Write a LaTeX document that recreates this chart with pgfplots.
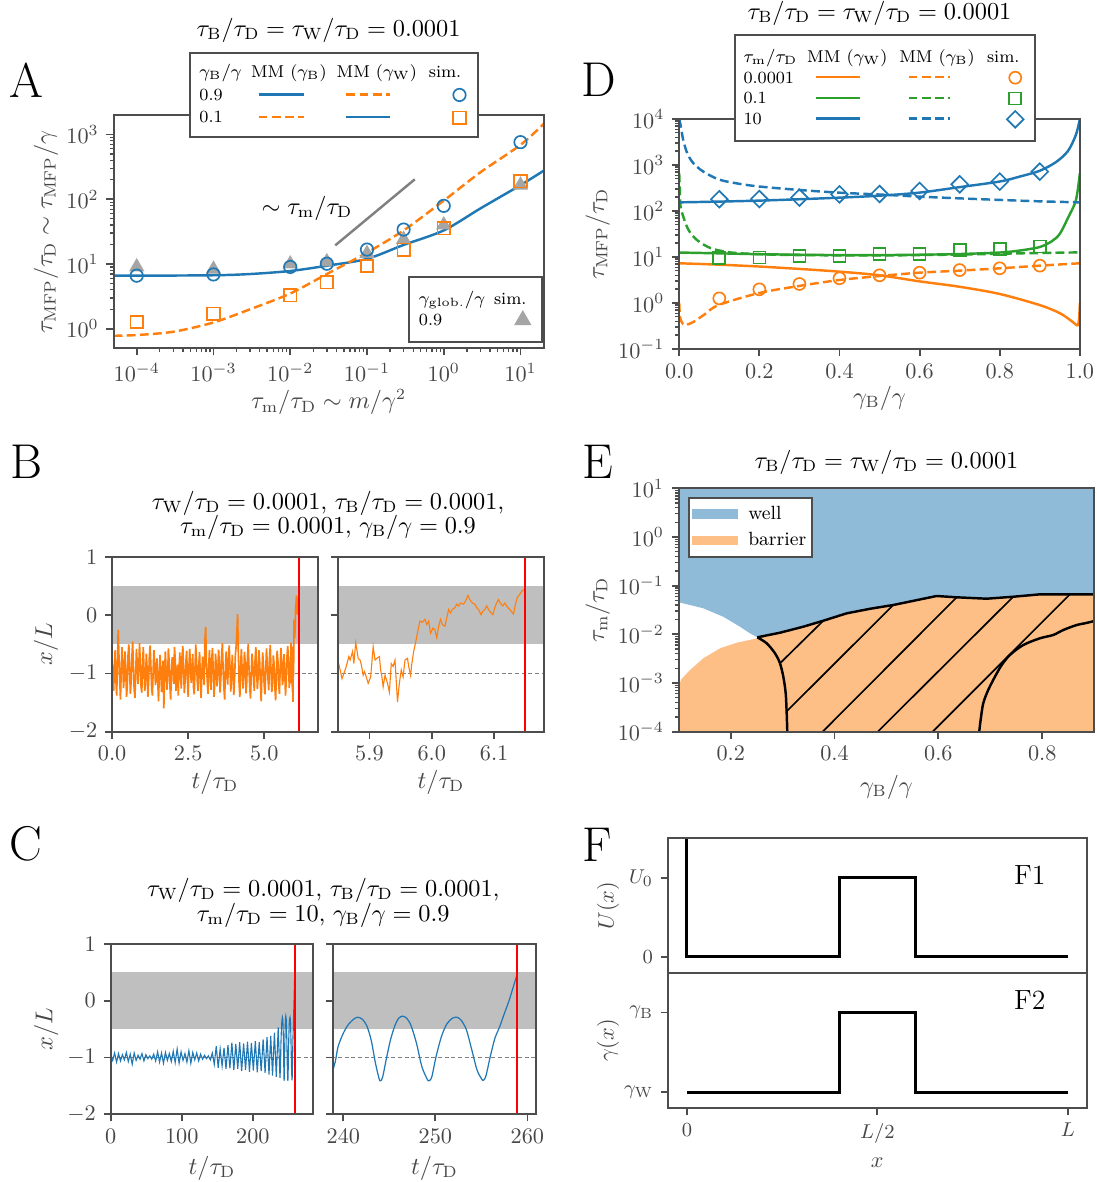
\documentclass[border=0pt]{standalone}
\usepackage{fontspec}
\usepackage{pgfplots}
\usepackage{pgfplotstable}
\pgfplotsset{compat=1.18}
\definecolor{tabblue}{RGB}{31,119,180}
\definecolor{taborange}{RGB}{255,127,14}
\definecolor{tabgreen}{RGB}{44,160,44}
\definecolor{framecol}{RGB}{77,77,77}
\definecolor{labcol}{RGB}{70,70,70}
\definecolor{bandgray}{RGB}{191,191,191}
\definecolor{trigray}{RGB}{165,165,165}
\definecolor{wellblue}{RGB}{143,187,217}
\definecolor{barrorange}{RGB}{254,191,134}
\definecolor{fptred}{RGB}{255,0,0}

\tikzset{dsh/.style={dash pattern=on 4pt off 1.9pt}}
\pgfplotsset{
  base/.style={
    scale only axis, axis on top, anchor=south west,
    axis line style={framecol, line width=0.9pt},
    tick style={framecol, line width=0.8pt},
    minor tick style={line width=0.6pt},
    major tick length=3.2pt, minor tick length=1.8pt,
    tick align=outside, xtick pos=left, ytick pos=left,
    tick label style={font=\fontsize{10}{12}\selectfont, color=labcol},
  },
  curve/.style={line width=1.1pt, smooth},
}
\newcommand{\lgfont}{\fontsize{7.7}{9}\selectfont}
\def\lgh{5.1pt}
\newcommand{\LgTxt}[4]{\addlegendimage{legend image code/.code={\path[draw=none,fill=none] (0pt,-\lgh) rectangle (#1,\lgh);\node[draw=none,fill=none,inner sep=0pt,anchor=#3,font=\lgfont,text=black] at (#2,-2.4pt) {#4};}}\addlegendentry{\mbox{}}}
\newcommand{\LgLine}[4]{\addlegendimage{legend image code/.code={\path[draw=none,fill=none] (0pt,-\lgh) rectangle (#1,\lgh);\draw[#4] (#2,0.3pt) -- (#3,0.3pt);}}\addlegendentry{\mbox{}}}
\newcommand{\LgMark}[3]{\addlegendimage{#3,only marks,legend image code/.code={\path[draw=none,fill=none] (0pt,-\lgh) rectangle (#1,\lgh);\draw plot coordinates {(#2,0pt)};}}\addlegendentry{\mbox{}}}

\pgfplotstableread[row sep=\\]{t y\\
0.000 -0.75\\ 0.025 -1.05\\ 0.050 -1.30\\ 0.075 -0.92\\ 0.100 -0.60\\ 0.125 -1.12\\ 0.150 -1.38\\ 0.175 -0.85\\ 0.200 -0.25\\ 0.225 -0.70\\
0.250 -1.10\\ 0.275 -1.45\\ 0.300 -0.95\\ 0.325 -0.55\\ 0.350 -0.80\\ 0.375 -1.25\\ 0.400 -1.05\\ 0.425 -0.62\\ 0.450 -0.98\\ 0.475 -1.40\\
0.500 -1.20\\ 0.525 -0.68\\ 0.550 -0.50\\ 0.575 -0.90\\ 0.600 -1.35\\ 0.625 -1.15\\ 0.650 -0.72\\ 0.675 -0.45\\ 0.700 -0.88\\ 0.725 -1.28\\
0.750 -1.42\\ 0.775 -1.00\\ 0.800 -0.58\\ 0.825 -0.82\\ 0.850 -1.18\\ 0.875 -0.95\\ 0.900 -0.48\\ 0.925 -0.78\\ 0.950 -1.22\\ 0.975 -1.33\\
1.000 -0.86\\ 1.025 -0.55\\ 1.050 -0.97\\ 1.075 -1.30\\ 1.100 -1.08\\ 1.125 -0.66\\ 1.150 -0.92\\ 1.175 -1.40\\ 1.200 -1.15\\ 1.225 -0.70\\
1.250 -0.52\\ 1.275 -0.88\\ 1.300 -1.25\\ 1.325 -1.38\\ 1.350 -0.94\\ 1.375 -0.60\\ 1.400 -0.83\\ 1.425 -1.20\\ 1.450 -1.02\\ 1.475 -0.74\\
1.500 -1.12\\ 1.525 -1.48\\ 1.550 -1.05\\ 1.575 -0.68\\ 1.600 -0.90\\ 1.625 -1.32\\ 1.650 -1.10\\ 1.675 -0.78\\ 1.700 -1.60\\ 1.725 -1.00\\
1.750 -0.62\\ 1.775 -0.95\\ 1.800 -1.28\\ 1.825 -1.08\\ 1.850 -0.57\\ 1.875 -0.80\\ 1.900 -1.22\\ 1.925 -1.45\\ 1.950 -0.98\\ 1.975 -0.72\\
2.000 -0.88\\ 2.025 -1.18\\ 2.050 -0.55\\ 2.075 -0.76\\ 2.100 -1.30\\ 2.125 -1.05\\ 2.150 -0.85\\ 2.175 -1.38\\ 2.200 -0.93\\ 2.225 -0.64\\
2.250 -1.02\\ 2.275 -1.26\\ 2.300 -0.70\\ 2.325 -0.53\\ 2.350 -0.96\\ 2.375 -1.34\\ 2.400 -1.12\\ 2.425 -0.80\\ 2.450 -0.61\\ 2.475 -1.08\\
2.500 -1.40\\ 2.525 -0.90\\ 2.550 -0.58\\ 2.575 -0.84\\ 2.600 -1.16\\ 2.625 -1.02\\ 2.650 -0.67\\ 2.675 -1.24\\ 2.700 -1.36\\ 2.725 -0.92\\
2.750 -0.50\\ 2.775 -0.78\\ 2.800 -1.14\\ 2.825 -1.30\\ 2.850 -0.86\\ 2.875 -0.63\\ 2.900 -1.06\\ 2.925 -1.42\\ 2.950 -0.99\\ 2.975 -0.71\\
3.000 -0.95\\ 3.025 -1.20\\ 3.050 -0.45\\ 3.075 -0.20\\ 3.100 -0.82\\ 3.125 -1.10\\ 3.150 -1.35\\ 3.175 -0.88\\ 3.200 -0.60\\ 3.225 -1.04\\
3.250 -1.28\\ 3.275 -0.76\\ 3.300 -0.56\\ 3.325 -0.98\\ 3.350 -1.40\\ 3.375 -1.15\\ 3.400 -0.66\\ 3.425 -0.87\\ 3.450 -1.22\\ 3.475 -1.00\\
3.500 -0.59\\ 3.525 -0.83\\ 3.550 -1.33\\ 3.575 -1.07\\ 3.600 -0.69\\ 3.625 -0.48\\ 3.650 -0.94\\ 3.675 -1.25\\ 3.700 -1.45\\ 3.725 -0.90\\
3.750 -0.62\\ 3.775 -1.03\\ 3.800 -1.19\\ 3.825 -0.74\\ 3.850 -0.52\\ 3.875 -0.89\\ 3.900 -1.31\\ 3.925 -1.09\\ 3.950 -0.68\\ 3.975 -0.96\\
4.000 -1.37\\ 4.025 -1.12\\ 4.050 -0.70\\ 4.075 -0.54\\ 4.100 -0.30\\ 4.125 0.02\\ 4.150 -0.65\\ 4.175 -1.18\\ 4.200 -1.40\\ 4.225 -0.85\\
4.250 -0.58\\ 4.275 -0.97\\ 4.300 -1.26\\ 4.325 -1.05\\ 4.350 -0.63\\ 4.375 -0.80\\ 4.400 -1.34\\ 4.425 -1.16\\ 4.450 -0.72\\ 4.475 -0.49\\
4.500 -0.91\\ 4.525 -1.23\\ 4.550 -1.43\\ 4.575 -0.99\\ 4.600 -0.66\\ 4.625 -0.84\\ 4.650 -1.12\\ 4.675 -1.30\\ 4.700 -0.77\\ 4.725 -0.55\\
4.750 -0.93\\ 4.775 -1.27\\ 4.800 -1.06\\ 4.825 -0.60\\ 4.850 -0.79\\ 4.875 -1.15\\ 4.900 -1.48\\ 4.925 -1.01\\ 4.950 -0.64\\ 4.975 -0.87\\
5.000 -1.21\\ 5.025 -1.36\\ 5.050 -0.95\\ 5.075 -0.57\\ 5.100 -0.82\\ 5.125 -1.10\\ 5.150 -1.29\\ 5.175 -0.73\\ 5.200 -0.51\\ 5.225 -0.98\\
5.250 -1.32\\ 5.275 -1.14\\ 5.300 -0.69\\ 5.325 -0.85\\ 5.350 -1.24\\ 5.375 -1.46\\ 5.400 -1.03\\ 5.425 -0.61\\ 5.450 -0.78\\ 5.475 -1.17\\
5.500 -1.35\\ 5.525 -0.92\\ 5.550 -0.56\\ 5.575 -0.81\\ 5.600 -1.20\\ 5.625 -1.08\\ 5.650 -0.67\\ 5.675 -0.94\\ 5.700 -1.38\\ 5.725 -1.11\\
5.750 -0.70\\ 5.775 -0.53\\ 5.800 -0.89\\ 5.825 -1.25\\
5.850 -0.80\\ 5.853 -0.94\\ 5.856 -1.09\\ 5.859 -1.00\\ 5.862 -0.91\\ 5.864 -0.83\\ 5.867 -0.71\\ 5.869 -0.77\\ 5.873 -0.62\\ 5.875 -0.83\\
5.878 -0.47\\ 5.882 -0.74\\ 5.885 -0.77\\ 5.887 -0.85\\ 5.890 -1.03\\ 5.892 -0.97\\ 5.895 -1.06\\ 5.898 -1.17\\ 5.902 -1.06\\ 5.906 -0.54\\
5.909 -0.77\\ 5.912 -0.74\\ 5.916 -0.71\\ 5.918 -0.94\\ 5.920 -1.06\\ 5.922 -1.23\\ 5.925 -1.03\\ 5.929 -1.17\\ 5.932 -1.32\\ 5.935 -0.83\\
5.938 -0.88\\ 5.941 -0.77\\ 5.945 -1.49\\ 5.948 -1.17\\ 5.951 -0.94\\ 5.954 -1.06\\ 5.957 -0.77\\ 5.961 -0.74\\ 5.963 -0.88\\ 5.966 -1.03\\
5.968 -0.83\\ 5.971 -0.62\\ 5.975 -0.42\\ 5.978 -0.25\\ 5.981 -0.10\\ 5.985 -0.12\\ 5.989 -0.07\\ 5.992 -0.16\\ 5.995 -0.10\\ 5.998 -0.31\\
6.002 -0.22\\ 6.005 -0.25\\ 6.008 -0.39\\ 6.011 -0.19\\ 6.014 -0.07\\ 6.017 -0.16\\ 6.021 -0.19\\ 6.024 -0.05\\ 6.027 0.10\\ 6.030 0.04\\
6.033 0.10\\ 6.037 0.13\\ 6.040 0.19\\ 6.043 0.16\\ 6.046 0.21\\ 6.051 0.19\\ 6.054 0.24\\ 6.058 0.34\\ 6.061 0.27\\ 6.065 0.21\\
6.069 0.19\\ 6.072 0.13\\ 6.075 0.10\\ 6.079 0.01\\ 6.082 0.07\\ 6.085 0.10\\ 6.088 0.16\\ 6.091 0.10\\ 6.095 0.04\\ 6.098 0.01\\
6.101 0.13\\ 6.104 0.21\\ 6.107 0.27\\ 6.111 0.19\\ 6.114 0.16\\ 6.117 0.21\\ 6.122 0.13\\ 6.125 0.10\\ 6.128 0.06\\ 6.131 0.02\\
6.134 0.18\\ 6.137 0.30\\ 6.141 0.36\\ 6.145 0.42\\ 6.150 0.46\\
}\Btraj

\pgfplotstableread[row sep=\\]{t y\\
0 -0.94\\ 2.75 -1.05\\ 5.5 -0.92\\ 8.25 -1.08\\ 11 -0.93\\ 13.75 -1.06\\ 16.5 -0.95\\ 19.25 -1.04\\ 22 -0.91\\ 24.75 -1.07\\
27.5 -0.94\\ 30.25 -1.12\\ 33 -0.92\\ 35.75 -1.05\\ 38.5 -0.96\\ 41.25 -1.03\\ 44 -0.93\\ 46.75 -1.06\\ 49.5 -0.95\\ 52.25 -1.02\\
55 -0.97\\ 57.75 -1.03\\ 60.5 -0.94\\ 63.25 -1.06\\ 66 -0.90\\ 68.75 -1.08\\ 71.5 -0.92\\ 74.25 -1.10\\ 77 -0.91\\ 79.75 -1.05\\
82.5 -0.93\\ 85.25 -1.07\\ 88 -0.89\\ 90.75 -1.09\\ 93.5 -0.85\\ 96.25 -1.10\\ 99 -0.90\\ 101.75 -1.05\\ 104.5 -0.93\\ 107.25 -1.08\\
110 -0.88\\ 112.75 -1.10\\ 115.5 -0.91\\ 118.25 -1.04\\ 121 -0.92\\ 123.75 -1.06\\ 126.5 -0.94\\ 129.25 -1.03\\ 132 -0.96\\ 134.75 -1.02\\
137.5 -0.97\\ 140.25 -1.04\\ 143 -0.92\\ 145.75 -1.12\\ 148.5 -0.80\\ 151.25 -1.18\\ 154 -0.85\\ 156.75 -1.15\\ 159.5 -0.83\\ 162.25 -1.20\\
165 -0.78\\ 167.75 -1.19\\ 170.5 -0.74\\ 173.25 -1.22\\ 176 -0.76\\ 178.75 -1.20\\ 181.5 -0.73\\ 184.25 -1.24\\ 187 -0.75\\ 189.75 -1.22\\
192.5 -0.72\\ 195.25 -1.25\\ 198 -0.74\\ 200.75 -1.23\\ 203.5 -0.71\\ 206.25 -1.26\\ 209 -0.73\\ 211.75 -1.24\\ 214.5 -0.68\\ 217.25 -1.27\\
220 -0.64\\ 222.75 -1.30\\ 225.2 -0.62\\ 227.7 -1.32\\ 230.4 -0.56\\ 233 -1.34\\ 235.7 -0.47\\ 238.2 -1.36\\
239.03 -1.13\\ 239.42 -0.81\\ 240.0 -0.57\\ 240.58 -0.41\\ 241.16 -0.32\\ 241.55 -0.29\\ 242.02 -0.32\\ 242.52 -0.43\\ 243.02 -0.69\\ 243.49 -1.10\\
243.88 -1.37\\ 244.03 -1.41\\ 244.26 -1.35\\ 244.65 -1.04\\ 245.12 -0.69\\ 245.62 -0.43\\ 246.0 -0.31\\ 246.43 -0.27\\ 246.9 -0.31\\ 247.36 -0.44\\
247.95 -0.75\\ 248.53 -1.16\\ 249.11 -1.38\\ 249.3 -1.41\\ 249.61 -1.34\\ 250.08 -0.98\\ 250.66 -0.63\\ 251.24 -0.41\\ 251.82 -0.31\\ 252.33 -0.29\\
252.79 -0.34\\ 253.37 -0.51\\ 253.95 -0.86\\ 254.53 -1.22\\ 255.04 -1.38\\ 255.23 -1.40\\ 255.5 -1.32\\ 255.97 -0.98\\ 256.47 -0.66\\ 256.98 -0.46\\
257.44 -0.25\\ 258.02 0.01\\ 258.53 0.28\\ 258.95 0.50\\
}\Ctraj

\begin{document}
\begin{tikzpicture}[x=0.45pt,y=0.45pt]
\path[use as bounding box] (0,0) rectangle (1097,1182);

% ---------------- Panel A ----------------
\def\lgh{5.1pt}
\begin{axis}[base, at={(51.12pt,375.17pt)}, width=193.5pt, height=105pt,
  xmode=log, ymode=log, xmin=5e-5, xmax=20, ymin=0.5, ymax=2000,
  xtick={1e-4,1e-3,1e-2,1e-1,1,10}, ytick={1,10,100,1000},
  legend columns=4,
  legend style={at={(0.176,1.27)}, anchor=north west, draw=framecol, line width=0.9pt, fill=white,
    inner xsep=0pt, inner ysep=3.6pt, column sep=0pt, row sep=0pt, nodes={inner sep=0pt}}]
\addplot[forget plot, trigray, only marks, mark=triangle*, mark size=3.6pt] coordinates {
 (1e-4,9.0) (1e-3,8.3) (1e-2,10.0) (3e-2,10.8) (0.1,14.5) (0.3,24) (1,40) (10,165)};
\addplot[forget plot, tabblue, curve] coordinates {
 (5e-5,6.6) (1e-4,6.6) (1e-3,6.7) (3e-3,7.0) (1e-2,7.8) (3e-2,9.4) (0.1,12.0) (0.3,19.7) (1,33) (3,72) (10,165) (20,275)};
\addplot[forget plot, taborange, curve, dsh] coordinates {
 (5e-5,0.78) (1e-4,0.8) (3e-4,0.9) (1e-3,1.25) (3e-3,2.0) (1e-2,3.5) (3e-2,7.0) (0.1,15) (0.3,33) (1,95) (3,260) (10,690) (20,1450)};
\addplot[forget plot, tabblue, only marks, mark=o, mark size=2.8pt, mark options={line width=0.75pt}] coordinates {
 (1e-4,6.6) (1e-3,6.9) (1e-2,9.0) (3e-2,10.1) (0.1,16.7) (0.3,34) (1,79) (10,760)};
\addplot[forget plot, taborange, only marks, mark=square, mark size=2.8pt, mark options={line width=0.75pt}] coordinates {
 (1e-4,1.27) (1e-3,1.7) (1e-2,3.3) (3e-2,5.2) (0.1,9.3) (0.3,16.7) (1,35.6) (10,190)};
\addplot[forget plot, gray, line width=1.1pt] coordinates {(0.0386,19.4) (0.42,203)};
\LgTxt{24.75pt}{3.7pt}{base west}{$\gamma_\mathrm{B}/\gamma$}
\LgTxt{38.25pt}{18.6pt}{base}{MM ($\gamma_\mathrm{B}$)}
\LgTxt{38.25pt}{18.9pt}{base}{MM ($\gamma_\mathrm{W}$)}
\LgTxt{24.4pt}{10.4pt}{base}{sim.}
\LgTxt{24.75pt}{3.7pt}{base west}{0.9}
\LgLine{38.25pt}{5.0pt}{25.5pt}{tabblue, line width=1.2pt}
\LgLine{38.25pt}{5.3pt}{25.1pt}{taborange, line width=1.2pt, dsh}
\LgMark{24.4pt}{16.9pt}{tabblue, mark=o, mark size=2.8pt, mark options={line width=0.75pt}}
\LgTxt{24.75pt}{3.7pt}{base west}{0.1}
\LgLine{38.25pt}{5.0pt}{25.5pt}{taborange, line width=1.2pt, dsh}
\LgLine{38.25pt}{5.3pt}{25.1pt}{tabblue, line width=1.2pt}
\LgMark{24.4pt}{16.9pt}{taborange, mark=square, mark size=2.8pt, mark options={line width=0.75pt}}
\end{axis}
\def\lgh{4.7pt}
\begin{axis}[base, hide axis, at={(51.12pt,375.17pt)}, width=193.5pt, height=105pt,
  xmin=0, xmax=1, ymin=0, ymax=1, legend columns=2,
  legend style={at={(0.6847,0.31)}, anchor=north west, draw=framecol, line width=0.9pt, fill=white,
    inner xsep=0pt, inner ysep=5.3pt, column sep=0pt, row sep=0pt, nodes={inner sep=0pt}}]
\LgTxt{36pt}{4pt}{base west}{$\gamma_\mathrm{glob.}/\gamma$}
\LgTxt{22pt}{8.55pt}{base}{sim.}
\LgTxt{36pt}{4pt}{base west}{0.9}
\LgMark{22pt}{14.2pt}{trigray, mark=triangle*, mark size=3.6pt}
\end{axis}

% ---------------- Panel D ----------------
\def\lgh{4.68pt}
\begin{axis}[base, at={(305.64pt,374.85pt)}, width=180.3pt, height=103.5pt,
  ymode=log, xmin=0, xmax=1, ymin=0.1, ymax=10000,
  xtick={0,0.2,0.4,0.6,0.8,1}, ytick={0.1,1,10,100,1000,10000},
  xticklabel style={/pgf/number format/.cd, fixed, fixed zerofill, precision=1},
  legend columns=4,
  legend style={at={(0.1368,1.3696)}, anchor=north west, draw=framecol, line width=0.9pt, fill=white,
    inner xsep=0pt, inner ysep=5.2pt, column sep=0pt, row sep=0pt, nodes={inner sep=0pt}}]
\addplot[forget plot, taborange, curve] coordinates {
 (0,7.3) (0.1,6.8) (0.2,6.2) (0.3,5.5) (0.4,4.8) (0.5,4.0) (0.6,2.95) (0.7,2.25) (0.8,1.57) (0.9,0.9) (0.95,0.6) (0.98,0.4) (0.99,0.34) (0.995,0.33) (0.998,0.45) (1.0,1.0)};
\addplot[forget plot, taborange, curve, dsh] coordinates {
 (0,1.0) (0.002,0.5) (0.006,0.39) (0.0145,0.33) (0.036,0.39) (0.0615,0.55) (0.098,0.9) (0.2,1.65) (0.3,2.35) (0.4,3.16) (0.5,3.86) (0.6,4.56) (0.7,5.05) (0.8,5.67) (0.9,6.48) (1.0,7.3)};
\addplot[forget plot, taborange, only marks, mark=o, mark size=2.7pt, mark options={line width=0.75pt}] coordinates {
 (0.1,1.26) (0.2,1.98) (0.3,2.59) (0.4,3.44) (0.5,3.99) (0.6,4.56) (0.7,5.2) (0.8,5.67) (0.9,6.48)};
\addplot[forget plot, tabgreen, curve] coordinates {
 (0,12.5) (0.1,12) (0.2,11.5) (0.3,11.2) (0.4,11) (0.5,11) (0.6,11.2) (0.7,11.6) (0.8,12.5) (0.85,13.8) (0.9,16.5) (0.93,22) (0.95,32) (0.97,70) (0.99,170) (1.0,660)};
\addplot[forget plot, tabgreen, curve, dsh] coordinates {
 (0,660) (0.0015,300) (0.0034,124) (0.01,76) (0.023,39) (0.044,23.5) (0.079,15.5) (0.13,12.5) (0.2,11.5) (0.3,11) (0.5,10.8) (0.7,11.3) (0.85,12) (1.0,12.6)};
\addplot[forget plot, tabgreen, only marks, mark=square, mark size=2.7pt, mark options={line width=0.75pt}] coordinates {
 (0.1,9.35) (0.2,9.7) (0.3,10.5) (0.4,10.5) (0.5,11.6) (0.6,11.6) (0.7,14.2) (0.8,14.9) (0.9,16.8)};
\addplot[forget plot, tabblue, curve] coordinates {
 (0,154) (0.1,160) (0.2,168) (0.3,180) (0.4,195) (0.5,215) (0.6,251) (0.7,330) (0.8,437) (0.85,560) (0.9,750) (0.94,1150) (0.97,2000) (0.99,4500) (1.0,10000)};
\addplot[forget plot, tabblue, curve, dsh] coordinates {
 (0,10000) (0.004,7000) (0.01,3500) (0.02,1800) (0.035,1100) (0.06,720) (0.1,480) (0.15,390) (0.2,340) (0.3,286) (0.4,250) (0.5,228) (0.6,205) (0.7,188) (0.8,174) (0.9,162) (1.0,154)};
\addplot[forget plot, tabblue, only marks, mark=square, mark size=2.65pt, mark options={rotate=45, line width=0.75pt}] coordinates {
 (0.1,180) (0.2,182) (0.3,195) (0.4,230) (0.5,234) (0.6,272) (0.7,380) (0.8,435) (0.9,716)};
\LgTxt{31.5pt}{3.4pt}{base west}{$\tau_\mathrm{m}/\tau_\mathrm{D}$}
\LgTxt{38.25pt}{17.8pt}{base}{MM ($\gamma_\mathrm{W}$)}
\LgTxt{38.25pt}{18.9pt}{base}{MM ($\gamma_\mathrm{B}$)}
\LgTxt{22.8pt}{9.45pt}{base}{sim.}
\LgTxt{31.5pt}{3.4pt}{base west}{0.0001}
\LgLine{38.25pt}{3.5pt}{23.7pt}{taborange, line width=1.2pt}
\LgLine{38.25pt}{6.1pt}{24.8pt}{taborange, line width=1.2pt, dsh}
\LgMark{22.8pt}{14.85pt}{taborange, mark=o, mark size=2.7pt, mark options={line width=0.75pt}}
\LgTxt{31.5pt}{3.4pt}{base west}{0.1}
\LgLine{38.25pt}{3.5pt}{23.7pt}{tabgreen, line width=1.2pt}
\LgLine{38.25pt}{6.1pt}{24.8pt}{tabgreen, line width=1.2pt, dsh}
\LgMark{22.8pt}{14.85pt}{tabgreen, mark=square, mark size=2.7pt, mark options={line width=0.75pt}}
\LgTxt{31.5pt}{3.4pt}{base west}{10}
\LgLine{38.25pt}{3.5pt}{23.7pt}{tabblue, line width=1.2pt}
\LgLine{38.25pt}{6.1pt}{24.8pt}{tabblue, line width=1.2pt, dsh}
\LgMark{22.8pt}{14.85pt}{tabblue, mark=square, mark size=2.65pt, mark options={rotate=45, line width=0.75pt}}
\end{axis}

% ---------------- Panel B ----------------
\begin{axis}[base, at={(50.45pt,202.64pt)}, width=92.6pt, height=78.6pt,
  xmin=0, xmax=6.765, ymin=-2, ymax=1, xtick={0,2.5,5}, ytick={-2,-1,0,1},
  xticklabel style={/pgf/number format/.cd, fixed, fixed zerofill, precision=1}]
\addplot[draw=none, fill=bandgray] coordinates {(-1,-0.5) (8,-0.5) (8,0.5) (-1,0.5)} -- cycle;
\addplot[gray, line width=0.6pt, dash pattern=on 1.8pt off 1.2pt] coordinates {(-1,-1) (8,-1)};
\addplot[taborange, line width=0.75pt] table[x=t,y=y] {\Btraj};
\addplot[draw=fptred, line width=0.9pt] coordinates {(6.15,-2) (6.15,1)};
\end{axis}
\begin{axis}[base, at={(152.19pt,202.64pt)}, width=92.6pt, height=78.6pt,
  xmin=5.85, xmax=6.18, ymin=-2, ymax=1, xtick={5.9,6.0,6.1}, ytick={-2,-1,0,1}, yticklabels={},
  xticklabel style={/pgf/number format/.cd, fixed, fixed zerofill, precision=1}]
\addplot[draw=none, fill=bandgray] coordinates {(5,-0.5) (7,-0.5) (7,0.5) (5,0.5)} -- cycle;
\addplot[gray, line width=0.6pt, dash pattern=on 1.8pt off 1.2pt] coordinates {(5,-1) (7,-1)};
\addplot[taborange, line width=0.5pt] table[x=t,y=y] {\Btraj};
\addplot[draw=fptred, line width=0.9pt] coordinates {(6.15,-2) (6.15,1)};
\end{axis}

% ---------------- Panel C ----------------
\begin{axis}[base, at={(49.82pt,30.47pt)}, width=91.1pt, height=76.6pt,
  xmin=0, xmax=284.9, ymin=-2, ymax=1, xtick={0,100,200}, ytick={-2,-1,0,1}]
\addplot[draw=none, fill=bandgray] coordinates {(-10,-0.5) (300,-0.5) (300,0.5) (-10,0.5)} -- cycle;
\addplot[gray, line width=0.6pt, dash pattern=on 1.8pt off 1.2pt] coordinates {(-10,-1) (300,-1)};
\addplot[tabblue, line width=0.5pt] table[x=t,y=y] {\Ctraj};
\addplot[draw=fptred, line width=0.9pt] coordinates {(258.9,-2) (258.9,1)};
\end{axis}
\begin{axis}[base, at={(149.94pt,30.47pt)}, width=91.1pt, height=76.6pt,
  xmin=238.9, xmax=260.9, ymin=-2, ymax=1, xtick={240,250,260}, ytick={-2,-1,0,1}, yticklabels={}]
\addplot[draw=none, fill=bandgray] coordinates {(230,-0.5) (270,-0.5) (270,0.5) (230,0.5)} -- cycle;
\addplot[gray, line width=0.6pt, dash pattern=on 1.8pt off 1.2pt] coordinates {(230,-1) (270,-1)};
\addplot[tabblue, line width=0.55pt, smooth] table[x=t,y=y] {\Ctraj};
\addplot[draw=fptred, line width=0.9pt] coordinates {(258.9,-2) (258.9,1)};
\end{axis}

% ---------------- Panel E ----------------
\begin{axis}[base, at={(305.46pt,202.64pt)}, width=186.9pt, height=109.5pt,
  ymode=log, xmin=0.1, xmax=0.9, ymin=1e-4, ymax=10,
  xtick={0.2,0.4,0.6,0.8}, ytick={1e-4,1e-3,1e-2,1e-1,1,10},
  xticklabel style={/pgf/number format/.cd, fixed, fixed zerofill, precision=1},
  legend cell align=left,
  legend style={at={(0.0214,0.9655)}, anchor=north west, draw=framecol, line width=0.9pt, fill=white,
    inner xsep=0pt, inner ysep=1.35pt, row sep=0pt,
    nodes={inner xsep=2.8pt, inner ysep=0pt, font=\fontsize{8.6}{10}\selectfont}}]
\addplot[forget plot, fill=wellblue, draw=none] coordinates {
 (0.1,10) (0.9,10) (0.9,0.0664) (0.7956,0.0664) (0.7442,0.0593) (0.693,0.054) (0.6352,0.0577) (0.5967,0.0614)
 (0.5131,0.0401) (0.4682,0.0335) (0.4234,0.02704) (0.3783,0.01905) (0.3398,0.01436) (0.2949,0.01081) (0.2512,0.00869)
 (0.2371,0.0105) (0.2179,0.01436) (0.1857,0.0230) (0.1472,0.0343) (0.1,0.0457)} -- cycle;
\addplot[forget plot, fill=barrorange, draw=none] coordinates {
 (0.1,1e-4) (0.9,1e-4) (0.9,0.0664) (0.7956,0.0664) (0.7442,0.0593) (0.693,0.054) (0.6352,0.0577) (0.5967,0.0614)
 (0.5131,0.0401) (0.4682,0.0335) (0.4234,0.02704) (0.3783,0.01905) (0.3398,0.01436) (0.2949,0.01081) (0.2512,0.00869)
 (0.2512,0.0083) (0.2115,0.00673) (0.1793,0.00516) (0.1472,0.00322) (0.1216,0.00185) (0.105,0.0012) (0.1,0.0009)} -- cycle;
\addplot[forget plot, black, line width=0.75pt] coordinates {(0.2949,0.002541) (0.3783,0.01905)};
\addplot[forget plot, black, line width=0.75pt] coordinates {(0.309,2.698e-4) (0.5131,0.04009)};
\addplot[forget plot, black, line width=0.75pt] coordinates {(0.3771,1e-4) (0.6352,0.05768)};
\addplot[forget plot, black, line width=0.75pt] coordinates {(0.4832,1e-4) (0.7442,0.05929)};
\addplot[forget plot, black, line width=0.75pt] coordinates {(0.589,1e-4) (0.8534,0.06637)};
\addplot[forget plot, black, line width=1.1pt] coordinates {
 (0.2512,0.00869) (0.2949,0.01081) (0.3398,0.01436) (0.3783,0.01905) (0.4234,0.02704) (0.4682,0.0335) (0.5131,0.0401)
 (0.5967,0.0614) (0.6352,0.0577) (0.693,0.054) (0.7442,0.0593) (0.7956,0.0664) (0.9,0.0664)};
\addplot[forget plot, black, line width=1.1pt, smooth] coordinates {
 (0.2512,0.00869) (0.2693,0.00655) (0.2853,0.00407) (0.2949,0.00254) (0.3013,0.00135) (0.3059,6.15e-4) (0.3078,2.39e-4) (0.309,1e-4)};
\addplot[forget plot, black, line width=1.1pt, smooth] coordinates {
 (0.6787,1e-4) (0.6814,1.74e-4) (0.6864,3.83e-4) (0.696,7.19e-4) (0.709,1.35e-3) (0.7219,2.34e-3) (0.7378,3.77e-3)
 (0.7635,6.04e-3) (0.7956,8.3e-3) (0.8212,9.7e-3) (0.8405,0.01227) (0.8663,0.01556) (0.8823,0.01687) (0.9,0.01875)};
\addlegendimage{legend image code/.code={\path[draw=none,fill=none] (0pt,-6pt) rectangle (24pt,6pt); \path[draw=none,fill=wellblue] (1.5pt,-2.1pt) rectangle (22.2pt,2.1pt);}}
\addlegendentry{well}
\addlegendimage{legend image code/.code={\path[draw=none,fill=none] (0pt,-6pt) rectangle (24pt,6pt); \path[draw=none,fill=barrorange] (1.5pt,-2.1pt) rectangle (22.2pt,2.1pt);}}
\addlegendentry{barrier}
\end{axis}

% ---------------- Panel F ----------------
\begin{axis}[base, at={(300.56pt,94.19pt)}, width=188.5pt, height=60.5pt,
  xmin=-0.05, xmax=1.05, ymin=-0.2, ymax=1.5, xtick=\empty, ytick={0,1}, yticklabels={$0$,$U_0$},
  tick label style={font=\fontsize{9.5}{11}\selectfont}]
\addplot[black, line width=1.35pt] coordinates {(0,2) (0,0) (0.4,0) (0.4,1) (0.6,1) (0.6,0) (1,0)};
\end{axis}
\begin{axis}[base, at={(300.56pt,33.17pt)}, width=188.5pt, height=61pt,
  xmin=-0.05, xmax=1.05, ymin=-0.2, ymax=1.5, xtick={0,0.5,1}, xticklabels={$0$,$L/2$,$L$},
  ytick={0,1}, yticklabels={$\gamma_\mathrm{W}$,$\gamma_\mathrm{B}$},
  tick label style={font=\fontsize{9.5}{11}\selectfont}]
\addplot[black, line width=1.35pt] coordinates {(0,0) (0.4,0) (0.4,1) (0.6,1) (0.6,0) (1,0)};
\end{axis}

% ---------------- Text ----------------
\tikzset{ttl/.style={font=\fontsize{10.5}{12.6}\selectfont, text=black},
         lab/.style={font=\fontsize{10.5}{12.6}\selectfont, text=labcol},
         let/.style={font=\fontsize{22}{26}\selectfont, text=black}}
\node[let] at (26.8,1102) {A};
\node[let] at (26,720) {B};
\node[let] at (26,338) {C};
\node[let] at (599,1102) {D};
\node[let] at (598,720) {E};
\node[let] at (597,337) {F};
\node[ttl] at (328.6,1152) {$\tau_\mathrm{B}/\tau_\mathrm{D}=\tau_\mathrm{W}/\tau_\mathrm{D}=0.0001$};
\node[ttl] at (879.5,1169) {$\tau_\mathrm{B}/\tau_\mathrm{D}=\tau_\mathrm{W}/\tau_\mathrm{D}=0.0001$};
\node[ttl] at (886.5,720) {$\tau_\mathrm{B}/\tau_\mathrm{D}=\tau_\mathrm{W}/\tau_\mathrm{D}=0.0001$};
\node[ttl] at (328,679) {$\tau_\mathrm{W}/\tau_\mathrm{D}=0.0001$, $\tau_\mathrm{B}/\tau_\mathrm{D}=0.0001$,};
\node[ttl] at (328,655) {$\tau_\mathrm{m}/\tau_\mathrm{D}=0.0001$, $\gamma_\mathrm{B}/\gamma=0.9$};
\node[ttl] at (323.2,292) {$\tau_\mathrm{W}/\tau_\mathrm{D}=0.0001$, $\tau_\mathrm{B}/\tau_\mathrm{D}=0.0001$,};
\node[ttl] at (323.2,267) {$\tau_\mathrm{m}/\tau_\mathrm{D}=10$, $\gamma_\mathrm{B}/\gamma=0.9$};
\node[ttl] at (307,974) {$\sim\tau_\mathrm{m}/\tau_\mathrm{D}$};
\node[lab] at (328.6,780) {$\tau_\mathrm{m}/\tau_\mathrm{D}\sim m/\gamma^2$};
\node[lab, rotate=90] at (46,950.3) {$\tau_\mathrm{MFP}/\tau_\mathrm{D}\sim\tau_\mathrm{MFP}/\gamma$};
\node[lab] at (879.5,784) {$\gamma_\mathrm{B}/\gamma$};
\node[lab, rotate=90] at (597.7,948) {$\tau_\mathrm{MFP}/\tau_\mathrm{D}$};
\node[lab, rotate=90] at (46,538) {$x/L$};
\node[lab] at (215,400) {$t/\tau_\mathrm{D}$};
\node[lab] at (441,400) {$t/\tau_\mathrm{D}$};
\node[lab, rotate=90] at (46.4,153) {$x/L$};
\node[lab] at (212,14) {$t/\tau_\mathrm{D}$};
\node[lab] at (434.5,14) {$t/\tau_\mathrm{D}$};
\node[lab, rotate=90] at (597.7,572) {$\tau_\mathrm{m}/\tau_\mathrm{D}$};
\node[lab] at (886.5,395) {$\gamma_\mathrm{B}/\gamma$};
\node[lab, rotate=90, font=\fontsize{10}{12}\selectfont] at (608,276.5) {$U(x)$};
\node[lab, rotate=90, font=\fontsize{10}{12}\selectfont] at (608,141.5) {$\gamma(x)$};
\node[lab, font=\fontsize{10}{12}\selectfont] at (877.3,19) {$x$};
\node[font=\fontsize{12.5}{15}\selectfont] at (1029.9,307) {F1};
\node[font=\fontsize{12.5}{15}\selectfont] at (1029.9,182) {F2};
\end{tikzpicture}
\end{document}
